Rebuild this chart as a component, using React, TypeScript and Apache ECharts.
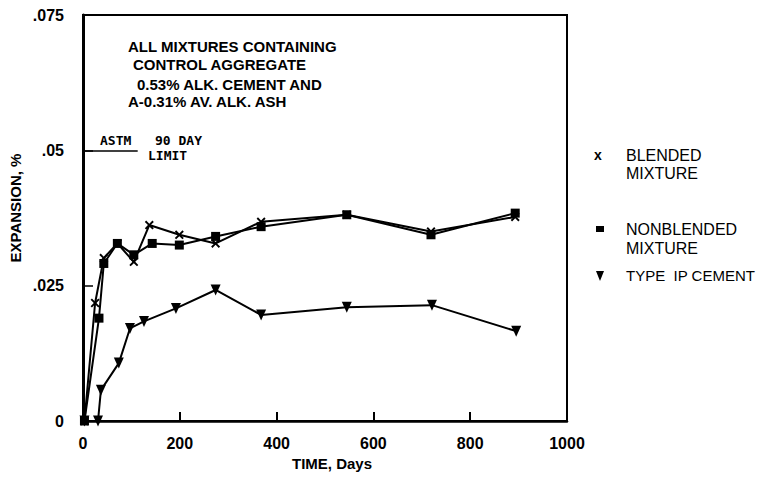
import React, { useEffect, useRef } from "react";
import * as echarts from "echarts";

const blendedDays = [3, 25, 43, 71, 105, 137, 199, 274, 368, 545, 719, 893];
const blendedExp = [0, 0.0218, 0.0301, 0.0328, 0.0294, 0.0362, 0.0344, 0.0328, 0.0368, 0.0381, 0.035, 0.0377];
const nonblendedDays = [3, 33, 43, 71, 105, 143, 199, 274, 368, 545, 719, 893];
const nonblendedExp = [0, 0.019, 0.0291, 0.0328, 0.0307, 0.0328, 0.0325, 0.0341, 0.0359, 0.0381, 0.0344, 0.0384];
const typeIPDays = [3, 31, 37, 74, 97, 126, 192, 274, 368, 545, 721, 895];
const typeIPExp = [0, 0, 0.0057, 0.0107, 0.0171, 0.0184, 0.0208, 0.0242, 0.0196, 0.021, 0.0214, 0.0166];

const yTickLabels: Record<string, string> = { "0": "0", "0.025": ".025", "0.05": ".05", "0.075": ".075" };
const noteLines = ["ALL MIXTURES CONTAINING", "CONTROL AGGREGATE", "0.53% ALK. CEMENT AND", "A-0.31% AV. ALK. ASH"];
const astmLimit = 0.05;
const astmLineEndDay = 113;

const FONT = "'Liberation Sans', Arial, Helvetica, sans-serif";
const MONO = "'DejaVu Sans Mono', 'Liberation Mono', monospace";

const X_SYMBOL = "path://M0,1.5 L1.5,0 L5,3.5 L8.5,0 L10,1.5 L6.5,5 L10,8.5 L8.5,10 L5,6.5 L1.5,10 L0,8.5 L3.5,5 Z";
const TRI_DOWN = "path://M0,0 L10,0 L5,10 Z";

export default function App() {
  const ref = useRef<HTMLDivElement>(null);
  useEffect(() => {
    if (!ref.current) return;
    const chart = echarts.init(ref.current, null, { renderer: "svg" });
    const zip = (a: number[], b: number[]) => a.map((d, i) => [d, b[i]]);
    const lineCommon = {
      type: "line",
      lineStyle: { color: "#000", width: 2 },
      itemStyle: { color: "#000" },
      showSymbol: true,
      z: 3,
    };
    const noteX = [128, 133, 137, 128];
    const noteY = [47, 65, 85, 102];
    chart.setOption({
      animation: false,
      backgroundColor: "#fff",
      grid: {
        left: 83,
        right: 195,
        top: 15,
        bottom: 57,
        show: true,
        borderColor: "#000",
        borderWidth: 2,
        containLabel: false,
        outerBoundsMode: "none",
      },
      xAxis: {
        type: "value",
        min: 0,
        max: 1000,
        interval: 200,
        axisLine: { show: true, lineStyle: { color: "#000", width: 2.5 } },
        axisTick: { show: true, inside: true, length: 9, lineStyle: { color: "#000", width: 2 } },
        splitLine: { show: false },
        axisLabel: {
          color: "#000",
          fontFamily: FONT,
          fontWeight: "bold",
          fontSize: 16,
          margin: 14,
          formatter: (v: number) => String(v),
        },
        name: "TIME, Days",
        nameLocation: "middle",
        nameGap: 35,
        nameTextStyle: { color: "#000", fontFamily: FONT, fontWeight: "bold", fontSize: 15, padding: [0, 0, 0, 14] },
      },
      yAxis: {
        type: "value",
        min: 0,
        max: 0.075,
        interval: 0.025,
        axisLine: { show: true, lineStyle: { color: "#000", width: 3 } },
        axisTick: { show: true, inside: true, length: 10, lineStyle: { color: "#000", width: 1.5 } },
        splitLine: { show: false },
        axisLabel: {
          color: "#000",
          fontFamily: FONT,
          fontWeight: "bold",
          fontSize: 16,
          margin: 19,
          formatter: (v: number) => yTickLabels[String(+v.toFixed(3))] ?? String(v),
        },
      },
      series: [
        {
          ...lineCommon,
          name: "BLENDED MIXTURE",
          data: zip(blendedDays, blendedExp),
          symbol: X_SYMBOL,
          symbolSize: 9,
          markLine: {
            silent: true,
            symbol: "none",
            label: { show: false },
            lineStyle: { color: "#000", width: 1.5, type: "solid" },
            data: [[{ coord: [0, astmLimit] }, { coord: [astmLineEndDay, astmLimit] }]],
          },
        },
        {
          ...lineCommon,
          name: "NONBLENDED MIXTURE",
          data: zip(nonblendedDays, nonblendedExp),
          symbol: "rect",
          symbolSize: 9,
        },
        {
          ...lineCommon,
          name: "TYPE IP CEMENT",
          data: zip(typeIPDays, typeIPExp),
          symbol: TRI_DOWN,
          symbolSize: [10, 11],
        },
      ],
      graphic: [
        ...noteLines.map((t, i) => ({
          type: "text",
          left: noteX[i],
          top: noteY[i] - 8,
          style: { text: t, fill: "#000", font: `bold 15px ${FONT}` },
        })),
        { type: "text", left: 100, top: 134, style: { text: "ASTM", fill: "#000", font: `bold 13px ${MONO}` } },
        { type: "text", left: 155, top: 134, style: { text: "90 DAY", fill: "#000", font: `bold 13px ${MONO}` } },
        { type: "text", left: 148, top: 149, style: { text: "LIMIT", fill: "#000", font: `bold 13px ${MONO}` } },
        {
          type: "text",
          x: 15,
          y: 208,
          rotation: Math.PI / 2,
          style: {
            text: "EXPANSION, %",
            fill: "#000",
            font: `bold 15px ${FONT}`,
            textAlign: "center",
            textVerticalAlign: "middle",
          },
        },
        // legend
        { type: "text", x: 598, y: 155, style: { text: "x", fill: "#000", font: `bold 14px ${FONT}`, textAlign: "center", textVerticalAlign: "middle" } },
        { type: "text", x: 626, y: 155, style: { text: "BLENDED", fill: "#000", font: `16px ${FONT}`, textVerticalAlign: "middle" } },
        { type: "text", x: 626, y: 173, style: { text: "MIXTURE", fill: "#000", font: `16px ${FONT}`, textVerticalAlign: "middle" } },
        { type: "rect", shape: { x: 596, y: 226, width: 8, height: 6 }, style: { fill: "#000" } },
        { type: "text", x: 626, y: 229, style: { text: "NONBLENDED", fill: "#000", font: `16px ${FONT}`, textVerticalAlign: "middle" } },
        { type: "text", x: 626, y: 248, style: { text: "MIXTURE", fill: "#000", font: `16px ${FONT}`, textVerticalAlign: "middle" } },
        { type: "polygon", shape: { points: [[596, 271], [604, 271], [600, 281]] }, style: { fill: "#000" } },
        { type: "text", x: 626, y: 275, style: { text: "TYPE  IP CEMENT", fill: "#000", font: `15px ${FONT}`, textVerticalAlign: "middle" } },
      ],
    });
    return () => chart.dispose();
  }, []);
  return <div ref={ref} style={{ position: "fixed", left: 0, top: 0, width: 762, height: 478, background: "#fff" }} />;
}
